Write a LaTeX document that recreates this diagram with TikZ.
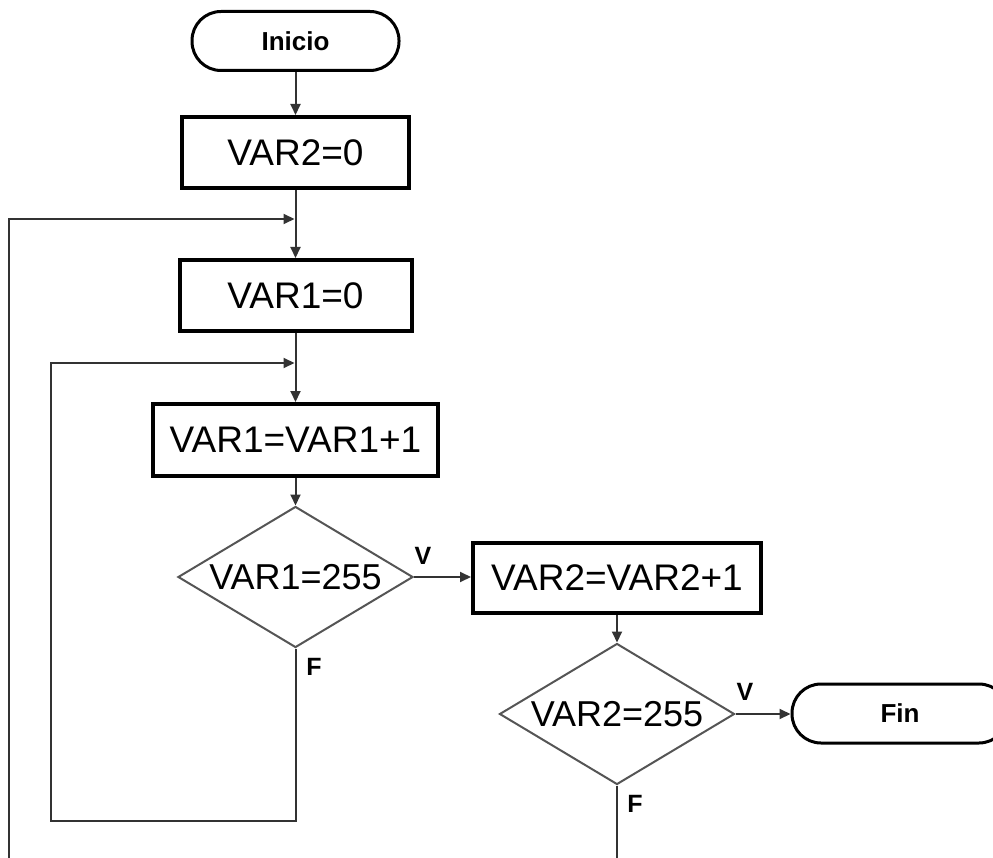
\documentclass[tikz,border=0pt]{standalone}
\usepackage{fontspec}
\setmainfont{Liberation Sans}
\usetikzlibrary{shapes.geometric,arrows.meta}
\definecolor{linegray}{HTML}{333333}
\definecolor{diamondgray}{HTML}{555555}
\begin{document}
\begin{tikzpicture}[x=1pt,y=-1pt,
  procbox/.style={draw=black, line width=4pt, rectangle, minimum height=71pt, inner sep=0pt,
    font=\fontsize{37}{42}\selectfont},
  term/.style={draw=black, line width=3pt, rectangle, rounded corners=29pt, minimum height=59pt,
    inner sep=0pt, font=\bfseries\fontsize{26}{30}\selectfont},
  decision/.style={draw=diamondgray, line width=2pt, diamond, minimum width=235pt,
    minimum height=141pt, inner sep=0pt,
    label={[font=\fontsize{36}{40}\selectfont, inner sep=0pt]center:{#1}}},
  flow/.style={draw=linegray, line width=2pt},
  arr/.style={flow, -{Triangle[length=11pt,width=10pt]}},
  tag/.style={font=\bfseries\fontsize{25}{28}\selectfont}
]
\useasboundingbox (0,0) rectangle (993,858);
\clip (0,0) rectangle (993,858);

% main column
\node[term, minimum width=207pt] (ini) at (295.5,41) {Inicio};
\node[procbox, minimum width=227pt] (v2z) at (295.5,152.5) {VAR2=0};
\node[procbox, minimum width=232pt] (v1z) at (295.5,295.5) {VAR1=0};
\node[procbox, minimum width=285pt, minimum height=72pt] (v1inc) at (295.5,440) {VAR1=VAR1+1};
\node[decision={{VAR1=255}}] (d1) at (295.5,577) {};

% right column
\node[procbox, minimum width=288pt, minimum height=70pt] (v2inc) at (617,578) {VAR2=VAR2+1};
\node[decision={{VAR2=255}}] (d2) at (617,714) {};
\node[term, minimum width=216pt] (fin) at (900,713.5) {Fin};

% branch labels
\node[tag] (v1lab) at (423,556) {V};
\node[tag] (f1lab) at (314,667) {F};
\node[tag] (v2lab) at (745,692) {V};
\node[tag] (f2lab) at (635,804) {F};

% junctions and loop corners
\coordinate (m1) at (295.5,219);
\coordinate (m2) at (295.5,363);
\coordinate (c1) at (51,821);
\coordinate (cutF) at (617,875);
\coordinate (cutL) at (9,875);

% straight flow
\draw[arr] (ini.south) -- (v2z.north);
\draw[arr] (v2z.south) -- (v1z.north);
\draw[arr] (v1z.south) -- (v1inc.north);
\draw[arr] (v1inc.south) -- (d1.north);
\draw[arr] (d1.east) -- (d1.east -| v2inc.west);
\draw[arr] (v2inc.south) -- (d2.north);
\draw[arr] (d2.east) -- (d2.east -| fin.west);

% loops
\draw[arr, shorten >=1pt] (d1.south) |- (c1) |- (m2);
\draw[flow] (d2.south) -- (cutF);
\draw[arr, shorten >=1pt] (cutL) |- (m1);
\end{tikzpicture}
\end{document}
